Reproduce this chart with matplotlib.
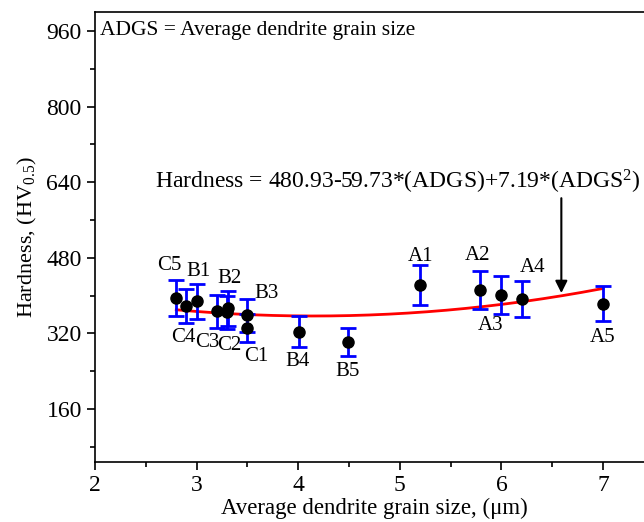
import matplotlib.pyplot as plt
import numpy as np

plt.rcParams['font.family'] = ['Liberation Serif', 'DejaVu Serif']
plt.rcParams['mathtext.fontset'] = 'custom'
plt.rcParams['mathtext.rm'] = 'Liberation Serif'
plt.rcParams['mathtext.it'] = 'Liberation Serif:italic'

# sample data
labels = ['C5', 'C4', 'B1', 'C3', 'B2', 'C2', 'B3', 'C1', 'B4', 'B5',
          'A1', 'A2', 'A3', 'A4', 'A5']
grain_size = [2.80, 2.90, 3.00, 3.20, 3.31, 3.30, 3.50, 3.50, 4.01, 4.49,
              5.20, 5.79, 6.00, 6.20, 7.00]
hardness = [394, 379, 388, 367, 373, 365, 358, 332, 324, 302,
            422, 412, 402, 393, 383]
hardness_err = [38, 36, 37, 35, 37, 35, 35, 30, 32, 30,
                42, 41, 40, 38, 37]

# fit coefficients from the plot annotation
fit_coef = [480.93, -59.73, 7.19]

# label offsets in pixels (dx, dy)
label_offsets = [(-7, 33), (-3, -32), (2, 30), (-10, -31), (1, 30), (2, -33),
                 (19, 22), (9, -29), (-2, -30), (0, -30),
                 (0, 29), (-3, 34), (-11, -31), (11, 31), (0, -34)]

fig = plt.figure(figsize=(6.44, 5.22), dpi=100)
ax = fig.add_axes([95 / 644, 1 - 462 / 522, 558.8 / 644, 450 / 522])

ax.errorbar(grain_size, hardness, yerr=hardness_err, fmt='o', color='black',
            ecolor='blue', elinewidth=2, capsize=6, capthick=2, markersize=8, zorder=3)

xfit = np.linspace(min(grain_size), max(grain_size), 200)
yfit = fit_coef[0] + fit_coef[1] * xfit + fit_coef[2] * xfit ** 2
ax.plot(xfit, yfit, color='red', lw=2, zorder=2)

for lab, x, y, off in zip(labels, grain_size, hardness, label_offsets):
    ax.annotate(lab, (x, y), xytext=off, textcoords='offset pixels',
                ha='center', va='center', fontsize=15)

ax.text(2.05, 960, 'ADGS = Average dendrite grain size', fontsize=15.5,
        ha='left', va='center')
ax.text(2.59, 640, 'Hardness = 480.93-59.73*(ADGS)+7.19*(ADGS$^2$)', fontsize=17,
        ha='left', va='center')

xa = 6.59
ya = fit_coef[0] + fit_coef[1] * xa + fit_coef[2] * xa ** 2
ax.annotate('', xy=(xa, ya), xytext=(xa, 612),
            arrowprops=dict(arrowstyle='-|>', color='black', lw=1.5, mutation_scale=18))

ax.set_xlim(2, 7.5)
ax.set_ylim(48, 1000)
ax.set_xticks([2, 3, 4, 5, 6, 7])
ax.set_xticks(np.arange(2.5, 7.5, 1), minor=True)
ax.set_yticks([160, 320, 480, 640, 800, 960])
ax.set_yticks([80, 240, 400, 560, 720, 880], minor=True)
ax.tick_params(which='both', direction='out', labelsize=17, width=1.2)
ax.tick_params(which='major', length=6)
ax.tick_params(which='minor', length=3.5)
for s in ax.spines.values():
    s.set_linewidth(1.2)

ax.set_xlabel('Average dendrite grain size, (μm)', fontsize=16.5, labelpad=1)
ax.set_ylabel('Hardness, (HV$_{0.5}$)', fontsize=16, labelpad=5)

fig.savefig('out.png', dpi=100)
